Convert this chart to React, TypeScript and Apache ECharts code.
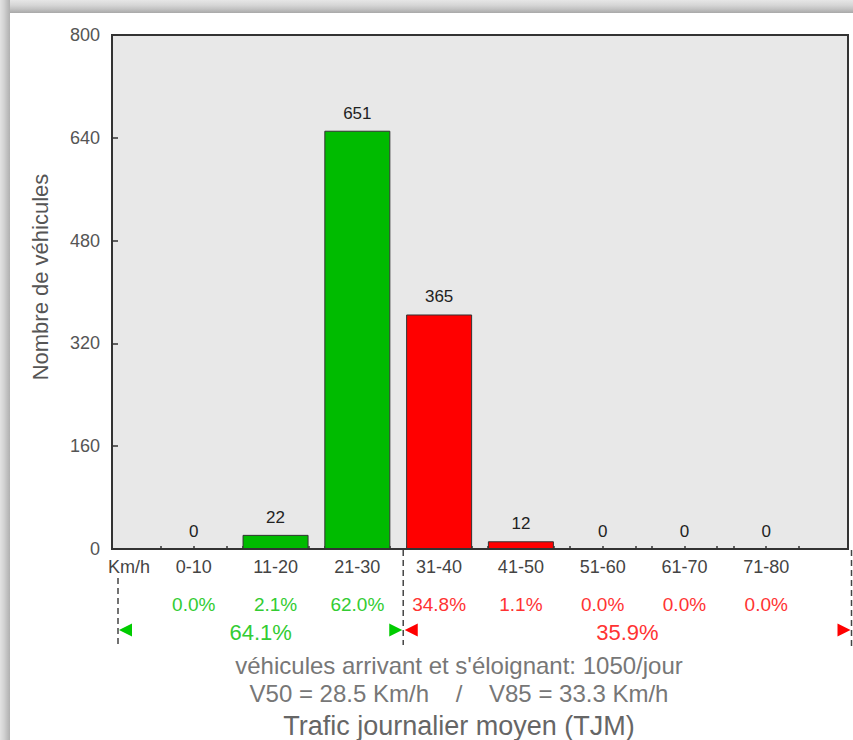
import React, { useEffect, useRef } from "react";
import * as echarts from "echarts";

const categories = ["0-10", "11-20", "21-30", "31-40", "41-50", "51-60", "61-70", "71-80"];
const counts = [0, 22, 651, 365, 12, 0, 0, 0];
const percents = ["0.0%", "2.1%", "62.0%", "34.8%", "1.1%", "0.0%", "0.0%", "0.0%"];
const groupTotals = ["64.1%", "35.9%"];
const splitIndex = 3; // first category of the second (red) group
const yTickValues = [0, 160, 320, 480, 640, 800];
const unitLabel = "Km/h";
const yTitle = "Nombre de véhicules";
const infoLines = [
  "véhicules arrivant et s'éloignant: 1050/jour",
  "V50 = 28.5 Km/h    /    V85 = 33.3 Km/h",
];
const chartTitle = "Trafic journalier moyen (TJM)";

const GREEN = "#00bb00";
const RED = "#ff0000";
const GREEN_TXT = "#33cc33";
const RED_TXT = "#ff3333";
const FONT = "'Liberation Sans', Arial, sans-serif";

export default function App() {
  const ref = useRef<HTMLDivElement>(null);
  useEffect(() => {
    if (!ref.current) return;
    const chart = echarts.init(ref.current, null, { renderer: "svg" });
    const xMax = (categories.length + 1) * 10;
    const centers = categories.map((_, i) => (i + 1) * 10);
    const tickVals: number[] = [];
    centers.forEach((c) => tickVals.push(c - 4, c, c + 4));
    const option: any = {
      animation: false,
      backgroundColor: "#ffffff",
      textStyle: { fontFamily: FONT },
      grid: {
        left: 112,
        top: 35,
        width: 736,
        height: 514,
        show: true,
        backgroundColor: "#e8e8e8",
        borderColor: "#333333",
        borderWidth: 2,
      },
      xAxis: {
        type: "value",
        min: 0,
        max: xMax,
        interval: 10,
        splitLine: { show: false },
        axisLine: { show: true, lineStyle: { color: "#333", width: 2 } },
        axisTick: {
          show: true,
          inside: true,
          length: 3,
          customValues: tickVals,
          lineStyle: { color: "#333", width: 1.5 },
        },
        axisLabel: {
          customValues: centers,
          formatter: (v: number) => categories[Math.round(v / 10) - 1] ?? "",
          fontSize: 18,
          color: "#444",
          margin: 9,
          fontFamily: FONT,
        },
      },
      yAxis: {
        type: "value",
        min: yTickValues[0],
        max: yTickValues[yTickValues.length - 1],
        interval: yTickValues[1] - yTickValues[0],
        splitLine: { show: false },
        axisLine: { show: true, lineStyle: { color: "#333", width: 2 } },
        axisTick: { show: true, inside: true, length: 6, lineStyle: { color: "#333", width: 1.5 } },
        axisLabel: { fontSize: 18, color: "#555", margin: 12, fontFamily: FONT },
      },
      series: [
        {
          type: "bar",
          barWidth: 66,
          data: categories.map((_, i) => ({
            value: [(i + 1) * 10, counts[i]],
            itemStyle: { color: i < splitIndex ? GREEN : RED },
          })),
          itemStyle: { borderColor: "#333", borderWidth: 1 },
          label: {
            show: true,
            position: "top",
            distance: 9,
            fontSize: 17,
            color: "#222",
            fontFamily: FONT,
            formatter: (p: any) => String(p.value[1]),
          },
        },
      ],
    };
    chart.setOption(option);

    const px = (v: number) => chart.convertToPixel({ xAxisIndex: 0 }, v) as number;
    const py = (v: number) => chart.convertToPixel({ yAxisIndex: 0 }, v) as number;
    const y0 = py(0);
    const xLeft = px(0) + 6;
    const xMid = (px(splitIndex * 10) + px((splitIndex + 1) * 10)) / 2 + 5;
    const xRight = px(xMax) + 3.5;
    const arrowY = y0 + 81;

    const graphics: any[] = [];
    // frame strips
    graphics.push({
      type: "rect",
      z: 100,
      shape: { x: 0, y: 0, width: 853, height: 13 },
      style: {
        fill: new echarts.graphic.LinearGradient(0, 0, 0, 1, [
          { offset: 0, color: "#e6e6e6" },
          { offset: 0.4, color: "#d6d6d6" },
          { offset: 0.7, color: "#c2c2c2" },
          { offset: 1, color: "#a8a8a8" },
        ]),
      },
    });
    graphics.push({
      type: "rect",
      z: 101,
      shape: { x: 0, y: 0, width: 10, height: 740 },
      style: {
        fill: new echarts.graphic.LinearGradient(0, 0, 1, 0, [
          { offset: 0, color: "#e2e2e2" },
          { offset: 0.4, color: "#d2d2d2" },
          { offset: 0.7, color: "#c0c0c0" },
          { offset: 1, color: "#b0b0b0" },
        ]),
      },
    });
    // unit label
    graphics.push({
      type: "text",
      x: px(0) - 4,
      y: y0 + 18,
      style: { text: unitLabel, fill: "#444", font: `18px ${FONT}`, align: "left", verticalAlign: "middle" },
    });
    // y title
    graphics.push({
      type: "text",
      x: 40,
      y: 277,
      rotation: Math.PI / 2,
      style: { text: yTitle, fill: "#555", font: `22px ${FONT}`, align: "center", verticalAlign: "middle" },
    });
    // percentages
    categories.forEach((_, i) => {
      graphics.push({
        type: "text",
        x: px((i + 1) * 10),
        y: y0 + 55,
        style: {
          text: percents[i],
          fill: i < splitIndex ? GREEN_TXT : RED_TXT,
          font: `19px ${FONT}`,
          align: "center",
          verticalAlign: "middle",
        },
      });
    });
    // group totals
    graphics.push({
      type: "text",
      x: (xLeft + xMid) / 2,
      y: arrowY + 2,
      style: { text: groupTotals[0], fill: GREEN_TXT, font: `22px ${FONT}`, align: "center", verticalAlign: "middle" },
    });
    graphics.push({
      type: "text",
      x: (xMid + xRight) / 2,
      y: arrowY + 2,
      style: { text: groupTotals[1], fill: RED_TXT, font: `22px ${FONT}`, align: "center", verticalAlign: "middle" },
    });
    // dashed lines
    const dash = { stroke: "#444", lineWidth: 1.5, lineDash: [6, 4] };
    graphics.push({ type: "line", shape: { x1: xLeft, y1: y0 + 29, x2: xLeft, y2: y0 + 96 }, style: dash });
    graphics.push({ type: "line", shape: { x1: xMid, y1: y0 + 1, x2: xMid, y2: y0 + 96 }, style: dash });
    graphics.push({ type: "line", shape: { x1: xRight, y1: y0 + 1, x2: xRight, y2: y0 + 100 }, style: dash });
    // arrows
    const tri = (tipX: number, dir: number, color: string) => ({
      type: "polygon",
      shape: {
        points: [
          [tipX, arrowY],
          [tipX + dir * 13, arrowY - 6.5],
          [tipX + dir * 13, arrowY + 6.5],
        ],
      },
      style: { fill: color },
    });
    graphics.push(tri(xLeft + 1, 1, "#00cc00"));
    graphics.push(tri(xMid - 1, -1, "#00cc00"));
    graphics.push(tri(xMid + 1.5, 1, "#ff0000"));
    graphics.push(tri(xRight - 1, -1, "#ff0000"));
    // info lines and title
    graphics.push({
      type: "text",
      x: 459,
      y: 665,
      style: { text: infoLines[0], fill: "#777", font: `24px ${FONT}`, align: "center", verticalAlign: "middle" },
    });
    graphics.push({
      type: "text",
      x: 459,
      y: 693,
      style: { text: infoLines[1], fill: "#777", font: `24px ${FONT}`, align: "center", verticalAlign: "middle" },
    });
    graphics.push({
      type: "text",
      x: 459,
      y: 726,
      style: { text: chartTitle, fill: "#666", font: `27px ${FONT}`, align: "center", verticalAlign: "middle" },
    });
    chart.setOption({ graphic: graphics });
    return () => chart.dispose();
  }, []);
  return (
    <div
      ref={ref}
      style={{ position: "absolute", left: 0, top: 0, width: 853, height: 740, background: "#fff" }}
    />
  );
}
